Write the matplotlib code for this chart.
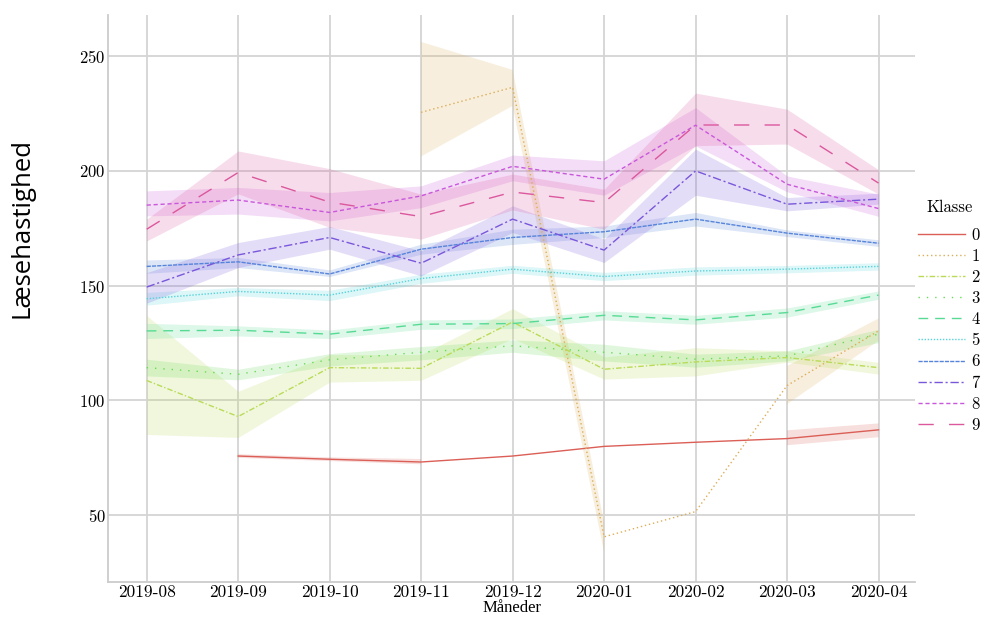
import numpy as np
import matplotlib
matplotlib.use("Agg")
import matplotlib.pyplot as plt
import seaborn as sns

nan = np.nan
maaneder = ["2019-08", "2019-09", "2019-10", "2019-11", "2019-12",
            "2020-01", "2020-02", "2020-03", "2020-04"]
klasser = ["0", "1", "2", "3", "4", "5", "6", "7", "8", "9"]

# middelvaerdi og konfidensbaand pr. klasse
k0 = [nan, 75.8, 74.4, 73.2, 75.8, 80.0, 81.8, 83.4, 87.2]
k0_lo = [nan, 75.0, 73.6, 72.2, nan, nan, nan, 80.5, 84.0]
k0_hi = [nan, 76.6, 75.2, 74.5, nan, nan, nan, 87.0, 90.0]

k1 = [nan, nan, nan, 225.5, 236.4, 40.6, 51.6, 106.5, 130.3]
k1_lo = [nan, nan, nan, 206.3, 228.3, 34.0, nan, 98.4, 126.0]
k1_hi = [nan, nan, nan, 256.2, 244.0, 47.0, nan, 115.0, 135.7]

k2 = [108.7, 93.0, 114.3, 114.0, 134.2, 113.6, 116.8, 118.7, 114.3]
k2_lo = [85.2, 83.9, 108.0, 108.8, 127.0, 109.3, 110.7, 116.7, 111.5]
k2_hi = [137.0, 104.0, 120.0, 120.0, 140.0, 119.0, 123.0, 121.6, 116.6]

k3 = [114.3, 111.4, 117.7, 121.0, 123.8, 121.0, 118.0, 119.4, 128.9]
k3_lo = [110.7, 109.0, 115.0, 117.7, 121.0, 117.2, 114.5, 117.2, 125.2]
k3_hi = [118.0, 113.6, 120.4, 123.5, 126.4, 124.5, 120.2, 121.6, 131.0]

k4 = [130.3, 130.6, 128.9, 133.2, 133.5, 137.1, 135.1, 138.3, 145.9]
k4_lo = [127.0, 128.1, 127.0, 131.0, 131.3, 135.1, 133.2, 136.3, 144.1]
k4_hi = [133.6, 132.5, 130.7, 135.1, 135.5, 139.1, 137.1, 140.3, 147.7]

k5 = [144.3, 147.5, 145.9, 153.1, 157.2, 154.0, 156.4, 157.2, 158.4]
k5_lo = [141.5, 145.6, 143.5, 151.0, 155.4, 152.2, 154.6, 155.6, 156.8]
k5_hi = [147.1, 149.2, 148.0, 155.0, 158.9, 155.8, 158.2, 158.8, 160.0]

k6 = [158.4, 160.4, 155.1, 165.9, 171.0, 173.5, 179.0, 172.9, 168.5]
k6_lo = [155.4, 157.9, 154.0, 163.7, 168.0, 171.0, 176.0, 171.4, 167.1]
k6_hi = [161.2, 162.3, 156.9, 168.1, 174.6, 176.0, 181.9, 174.3, 170.0]

k7 = [149.4, 163.4, 171.0, 159.8, 179.0, 165.5, 200.0, 185.5, 187.7]
k7_lo = [142.4, 157.9, 165.9, 154.3, 173.2, 160.1, 189.4, 182.6, 185.5]
k7_hi = [155.7, 168.8, 175.8, 165.2, 184.8, 170.3, 209.5, 188.4, 190.3]

k8 = [185.1, 187.3, 181.9, 189.1, 202.0, 196.4, 219.9, 194.2, 183.6]
k8_lo = [180.4, 181.2, 178.2, 184.0, 195.7, 189.4, 210.9, 190.9, 180.2]
k8_hi = [191.3, 192.8, 190.6, 193.5, 206.9, 204.4, 227.6, 197.8, 189.9]

k9 = [174.6, 199.3, 186.4, 180.1, 190.8, 186.2, 220.0, 220.0, 194.7]
k9_lo = [169.5, 190.0, 175.4, 170.3, 183.0, 174.6, 211.0, 211.7, 189.9]
k9_hi = [179.0, 208.7, 201.0, 189.9, 198.6, 192.0, 233.9, 226.9, 200.5]

serier = [(k0, k0_lo, k0_hi), (k1, k1_lo, k1_hi), (k2, k2_lo, k2_hi),
          (k3, k3_lo, k3_hi), (k4, k4_lo, k4_hi), (k5, k5_lo, k5_hi),
          (k6, k6_lo, k6_hi), (k7, k7_lo, k7_hi), (k8, k8_lo, k8_hi),
          (k9, k9_lo, k9_hi)]

streger = [(None), (1, 2), (4, 1.5, 1, 1.5), (1, 5), (7, 5),
           (1, 1.2), (3, 0.8), (6, 2, 1.5, 2), (3, 2), (11, 11)]

farver = sns.color_palette("hls", 10)

plt.rcParams['font.family'] = ['cmr10', 'DejaVu Serif']
plt.rcParams['axes.formatter.use_mathtext'] = True

fig = plt.figure(figsize=(9.84, 6.17), dpi=100)
ax = fig.add_axes([0.11, 0.057, 0.82, 0.919])

x = np.arange(len(maaneder))
for i, (m, lo, hi) in enumerate(serier):
    linje, = ax.plot(x, m, color=farver[i], linewidth=1.0, label=klasser[i])
    if streger[i] is not None:
        linje.set_dashes(streger[i])
    ax.fill_between(x, np.array(lo, float), np.array(hi, float),
                    color=farver[i], alpha=0.2, linewidth=0)

ax.set_xticks(x)
ax.set_xticklabels(maaneder, fontsize=12.5)
ax.set_yticks([50, 100, 150, 200, 250])
ax.tick_params(axis='y', labelsize=12, pad=2)
ax.tick_params(axis='x', pad=2)
ax.tick_params(length=0)
ax.set_xlim(-0.42, 8.4)
ax.set_ylim(21, 268)
ax.grid(True, color='#d4d4d4', linewidth=1.3)
ax.set_axisbelow(True)
for s in ['top', 'right']:
    ax.spines[s].set_visible(False)
for s in ['left', 'bottom']:
    ax.spines[s].set_color('#cccccc')
    ax.spines[s].set_linewidth(1.3)

ax.set_xlabel('Måneder', fontsize=12, labelpad=0, family=['Liberation Serif'])
fig.text(0.022, 0.63, 'Læsehastighed', rotation=90, va='center', ha='center',
         fontsize=18.5, family=['Open Sans'])

# legende uden for plottet, titel sat for sig
fig.text(0.965, 1 - 207 / 617, 'Klasse', ha='center', va='center', fontsize=12)
leg = ax.legend(loc='center left', bbox_to_anchor=(0.921, 0.465),
                bbox_transform=fig.transFigure, frameon=False, fontsize=12,
                handlelength=2.8, handletextpad=0.4,
                labelspacing=0.35, borderaxespad=0.3)

plt.savefig('out.png', dpi=100)
